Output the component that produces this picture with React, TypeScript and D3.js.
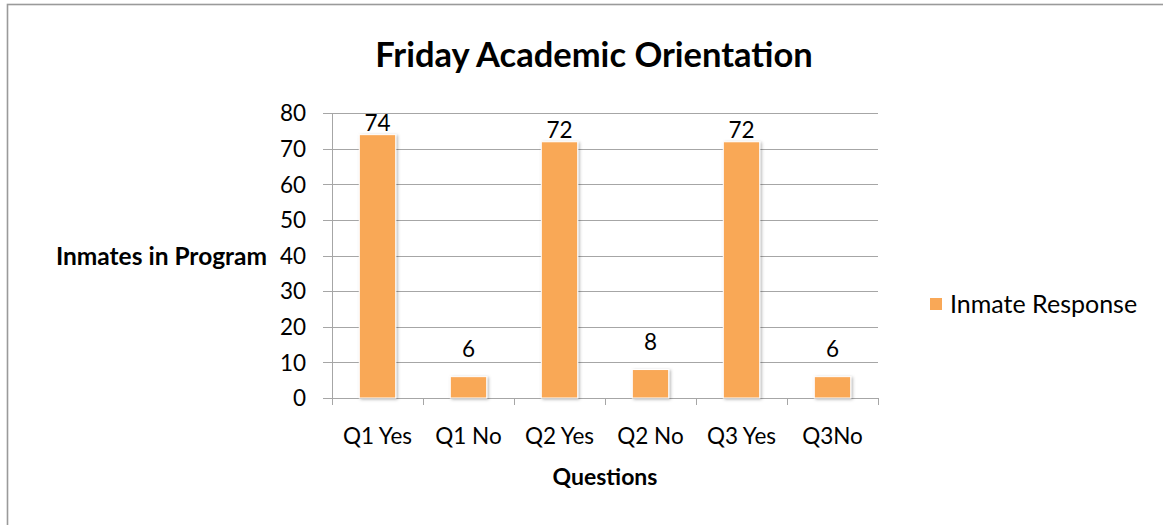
import React from "react";
import * as d3 from "d3";

const categories: string[] = ["Q1 Yes", "Q1 No", "Q2 Yes", "Q2 No", "Q3 Yes", "Q3No"];
const inmateResponse: number[] = [74, 6, 72, 8, 72, 6];
const yTicks: number[] = [0, 10, 20, 30, 40, 50, 60, 70, 80];
const seriesName = "Inmate Response";
const chartTitle = "Friday Academic Orientation";
const xTitle = "Questions";
const yTitle = "Inmates in Program";

const W = 1163;
const H = 525;
const FONT = "Lato, 'Open Sans', sans-serif";
const BAR = "#F9A857";
const GRID = "#A6A6A6";

export default function App() {
  const plotLeft = 332;
  const plotRight = 878;
  const plotTop = 113.3;
  const plotBottom = 398;

  const x = d3
    .scaleBand<string>()
    .domain(categories)
    .range([plotLeft, plotRight])
    .paddingInner(0.6)
    .paddingOuter(0.3);
  const y = d3.scaleLinear().domain([0, 80]).range([plotBottom, plotTop]);
  const step = x.step();
  const gap = (step - x.bandwidth()) / 2;
  const boundaries = categories.map((c) => (x(c) as number) - gap).concat([plotRight]);

  const labelBaseline = (v: number) => {
    const top = y(v);
    if (top - 20 - 16 < plotTop) return top - 4;
    return top - 20;
  };

  return (
    <svg
      width={W}
      height={H}
      style={{ position: "absolute", left: 0, top: 0, overflow: "hidden", background: "#fff" }}
    >
      <defs>
        <filter id="shadow" x="-30%" y="-10%" width="160%" height="130%">
          <feDropShadow dx="1.5" dy="1" stdDeviation="1.5" floodColor="#000" floodOpacity="0.3" />
        </filter>
      </defs>
      <rect x={7.5} y={4.5} width={1300} height={700} fill="#fff" stroke="#9a9a9a" strokeWidth={1.6} />

      <text
        x={594}
        y={66.5}
        textAnchor="middle"
        fontFamily={FONT}
        fontWeight="bold"
        fontSize={34.5}
        fill="#000"
      >
        {chartTitle}
      </text>

      {/* gridlines + y ticks */}
      {yTicks.map((t) => (
        <line
          key={"g" + t}
          x1={plotLeft - 9}
          x2={plotRight}
          y1={Math.round(y(t)) + 0.5}
          y2={Math.round(y(t)) + 0.5}
          stroke={GRID}
          strokeWidth={1}
        />
      ))}
      <line x1={plotLeft + 0.5} x2={plotLeft + 0.5} y1={plotTop} y2={plotBottom} stroke={GRID} />
      {boundaries.map((b, i) => (
        <line
          key={"xt" + i}
          x1={Math.round(b) + 0.5}
          x2={Math.round(b) + 0.5}
          y1={plotBottom}
          y2={plotBottom + 7}
          stroke={GRID}
        />
      ))}
      {yTicks.map((t) => (
        <text
          key={"yl" + t}
          x={306}
          y={y(t)}
          dy="0.36em"
          textAnchor="end"
          fontFamily={FONT}
          fontSize={22.5}
          fill="#000"
        >
          {t}
        </text>
      ))}

      {/* bars */}
      {categories.map((c, i) => (
        <rect
          key={"b" + c}
          x={x(c)}
          y={y(inmateResponse[i])}
          width={x.bandwidth()}
          height={plotBottom - y(inmateResponse[i])}
          fill={BAR}
          stroke="#fff"
          strokeWidth={1}
          filter="url(#shadow)"
        />
      ))}
      {categories.map((c, i) => (
        <text
          key={"v" + c}
          x={(x(c) as number) + x.bandwidth() / 2}
          y={labelBaseline(inmateResponse[i])}
          textAnchor="middle"
          fontFamily={FONT}
          fontSize={22.5}
          fill="#000"
        >
          {inmateResponse[i]}
        </text>
      ))}

      {/* x labels */}
      {categories.map((c) => (
        <text
          key={"xl" + c}
          x={(x(c) as number) + x.bandwidth() / 2}
          y={443.5}
          textAnchor="middle"
          fontFamily={FONT}
          fontSize={22.5}
          fill="#000"
        >
          {c}
        </text>
      ))}

      <text x={605} y={485} textAnchor="middle" fontFamily={FONT} fontWeight="bold" fontSize={23} fill="#000">
        {xTitle}
      </text>
      <text x={267} y={y(40)} dy="0.38em" textAnchor="end" fontFamily={FONT} fontWeight="bold" fontSize={24.5} fill="#000">
        {yTitle}
      </text>

      {/* legend */}
      <rect x={930} y={298} width={12} height={12} fill={BAR} />
      <text x={950} y={313} fontFamily={FONT} fontSize={25} fill="#000">
        {seriesName}
      </text>
    </svg>
  );
}
